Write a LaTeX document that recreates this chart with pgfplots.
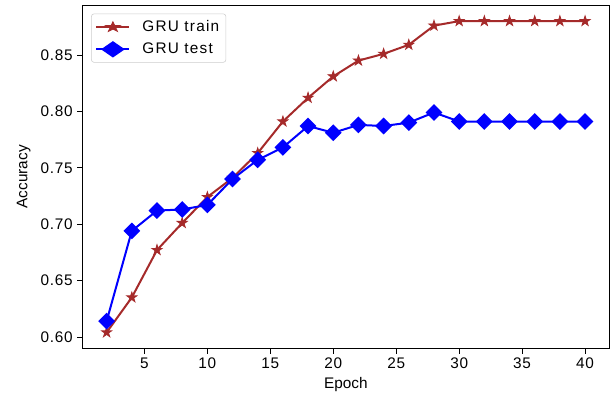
\documentclass[border=0pt]{standalone}
\usepackage{fontspec}
\setmainfont{Liberation Sans}
\usepackage{pgfplots}
\pgfplotsset{compat=1.18}
\definecolor{trainc}{HTML}{A52A2A}
\definecolor{testc}{HTML}{0000FF}
\pgfdeclareplotmark{fstar}{%
  \pgfpathmoveto{\pgfqpointpolar{90}{\pgfplotmarksize}}%
  \pgfpathlineto{\pgfqpointpolar{126}{0.382\pgfplotmarksize}}%
  \pgfpathlineto{\pgfqpointpolar{162}{\pgfplotmarksize}}%
  \pgfpathlineto{\pgfqpointpolar{198}{0.382\pgfplotmarksize}}%
  \pgfpathlineto{\pgfqpointpolar{234}{\pgfplotmarksize}}%
  \pgfpathlineto{\pgfqpointpolar{270}{0.382\pgfplotmarksize}}%
  \pgfpathlineto{\pgfqpointpolar{306}{\pgfplotmarksize}}%
  \pgfpathlineto{\pgfqpointpolar{342}{0.382\pgfplotmarksize}}%
  \pgfpathlineto{\pgfqpointpolar{18}{\pgfplotmarksize}}%
  \pgfpathlineto{\pgfqpointpolar{54}{0.382\pgfplotmarksize}}%
  \pgfpathclose
  \pgfusepathqfillstroke}
\begin{document}
\begin{tikzpicture}
\begin{axis}[
  name=ax,
  scale only axis,
  width=394.5pt, height=257pt,
  xmin=0.1, xmax=41.9, ymin=0.590, ymax=0.894,
  xtick={5,10,...,40},
  ytick={0.60,0.65,...,0.86},
  yticklabel style={/pgf/number format/.cd,fixed,fixed zerofill,precision=2},
  /pgf/number format/assume math mode=true,
  tick align=outside, tick pos=left,
  major tick length=4pt,
  tick style={black, line width=0.6pt},
  axis line style={line width=0.6pt},
  ticklabel style={font=\fontsize{11.5}{13}\selectfont\addfontfeature{LetterSpace=5}},
  label style={font=\fontsize{11.5}{13}\selectfont},
  xlabel={Epoch}, ylabel={Accuracy},
  ylabel style={at={(axis description cs:-0.112,0.5)}, anchor=center},
  xlabel style={at={(axis description cs:0.5,-0.107)}, anchor=center},
  legend cell align=left,
  legend style={font=\fontsize{11.5}{13}\selectfont\addfontfeature{LetterSpace=8}, draw=black!20, rounded corners=2pt, inner sep=3pt, row sep=3pt, at={(0.016,0.976)}, anchor=north west},
  legend image post style={xscale=1.45},
]
\addplot[trainc, line width=1.5pt, mark=fstar, mark size=4pt, mark options={line width=0.6pt}]
coordinates {(2,0.604)(4,0.635)(6,0.677)(8,0.701)(10,0.724)(12,0.741)(14,0.763)(16,0.791)(18,0.812)(20,0.831)(22,0.845)(24,0.851)(26,0.859)(28,0.876)(30,0.880)(32,0.880)(34,0.880)(36,0.880)(38,0.880)(40,0.880)};
\addlegendentry{\hspace{7pt}GRU train}
\addplot[testc, line width=1.5pt, mark=square*, mark size=3.7pt, mark options={rotate=45}]
coordinates {(2,0.614)(4,0.694)(6,0.712)(8,0.713)(10,0.717)(12,0.740)(14,0.757)(16,0.768)(18,0.787)(20,0.781)(22,0.788)(24,0.787)(26,0.790)(28,0.799)(30,0.791)(32,0.791)(34,0.791)(36,0.791)(38,0.791)(40,0.791)};
\addlegendentry{\hspace{7pt}GRU test}
\end{axis}
\pgfresetboundingbox
\path ([xshift=-62pt,yshift=-37.5pt]ax.south west) rectangle ([xshift=3pt,yshift=4pt]ax.north east);
\end{tikzpicture}
\end{document}
